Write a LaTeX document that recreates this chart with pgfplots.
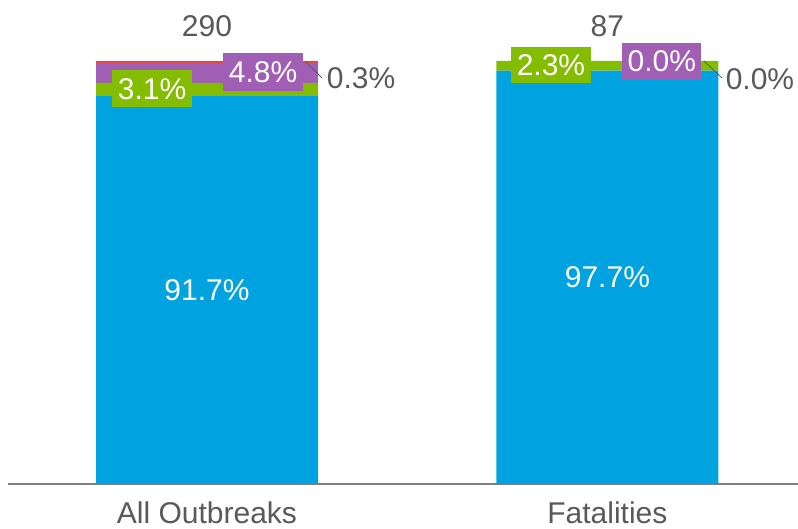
\documentclass[border=0pt]{standalone}
\usepackage{pgfplots}
\pgfplotsset{compat=1.18}
\usepackage{fontspec}
\setmainfont{Liberation Sans}
\definecolor{cblue}{HTML}{00A3E0}
\definecolor{cgreen}{HTML}{84BD00}
\definecolor{cpurple}{HTML}{A05EB5}
\definecolor{cred}{HTML}{EF4044}
\definecolor{textgray}{HTML}{595959}
\definecolor{axisgray}{HTML}{7F7F7F}
\begin{document}
\begin{tikzpicture}[font=\fontsize{30}{36}\selectfont]
\begin{axis}[name=ax, scale only axis, width=790pt, height=423pt,
  xmin=-0.497, xmax=1.476, ymin=0, ymax=100,
  ybar stacked, bar width=222pt,
  axis x line=bottom, axis y line=none,
  axis line style={-, draw=axisgray, line width=1.2pt},
  xtick={0,1}, xticklabels={All Outbreaks, Fatalities},
  major tick length=0pt,
  xticklabel style={text=textgray, anchor=base, yshift=-40pt},
  ytick=\empty, clip=false,
  every axis plot/.append style={draw=none}]
\addplot[fill=cblue] coordinates {(0,91.7) (1,97.7)};
\addplot[fill=cgreen] coordinates {(0,3.1) (1,2.3)};
\addplot[fill=cpurple] coordinates {(0,4.8) (1,0.0)};
\addplot[fill=cred] coordinates {(0,0.3) (1,0.0)};
\coordinate (l1) at (axis cs:0,45.85);
\coordinate (l2) at (axis cs:1,48.85);
\coordinate (g1) at (axis cs:-0.137,93.4);
\coordinate (p1) at (axis cs:0.140,97.4);
\coordinate (g2) at (axis cs:0.859,99.1);
\coordinate (p2) at (axis cs:1.136,99.9);
\coordinate (s1a) at (axis cs:0.245,100);
\coordinate (s1b) at (axis cs:0.287,96);
\coordinate (o1) at (axis cs:0.385,95.9);
\coordinate (s2a) at (axis cs:1.241,100);
\coordinate (s2b) at (axis cs:1.286,96);
\coordinate (o2) at (axis cs:1.381,95.7);
\coordinate (t1) at (axis cs:0,108.3);
\coordinate (t2) at (axis cs:1,108.2);
\end{axis}
\node[text=white] at (l1) {91.7\%};
\node[text=white] at (l2) {97.7\%};
\node[fill=cgreen, text=white, minimum width=80pt, minimum height=37pt, inner sep=0pt] at (g1) {3.1\%};
\node[fill=cpurple, text=white, minimum width=80pt, minimum height=38pt, inner sep=0pt] at (p1) {4.8\%};
\node[fill=cgreen, text=white, minimum width=80pt, minimum height=36pt, inner sep=0pt] at (g2) {2.3\%};
\node[fill=cpurple, text=white, minimum width=79pt, minimum height=37pt, inner sep=0pt] at (p2) {0.0\%};
\draw[textgray, line width=0.8pt] (s1a) -- (s1b);
\node[text=textgray] at (o1) {0.3\%};
\draw[textgray, line width=0.8pt] (s2a) -- (s2b);
\node[text=textgray] at (o2) {0.0\%};
\node[text=textgray] at (t1) {290};
\node[text=textgray] at (t2) {87};
\pgfresetboundingbox
\path[use as bounding box] ([shift={(-8pt,-45pt)}]ax.south west) rectangle ([shift={(0pt,61pt)}]ax.north east);
\end{tikzpicture}
\end{document}
